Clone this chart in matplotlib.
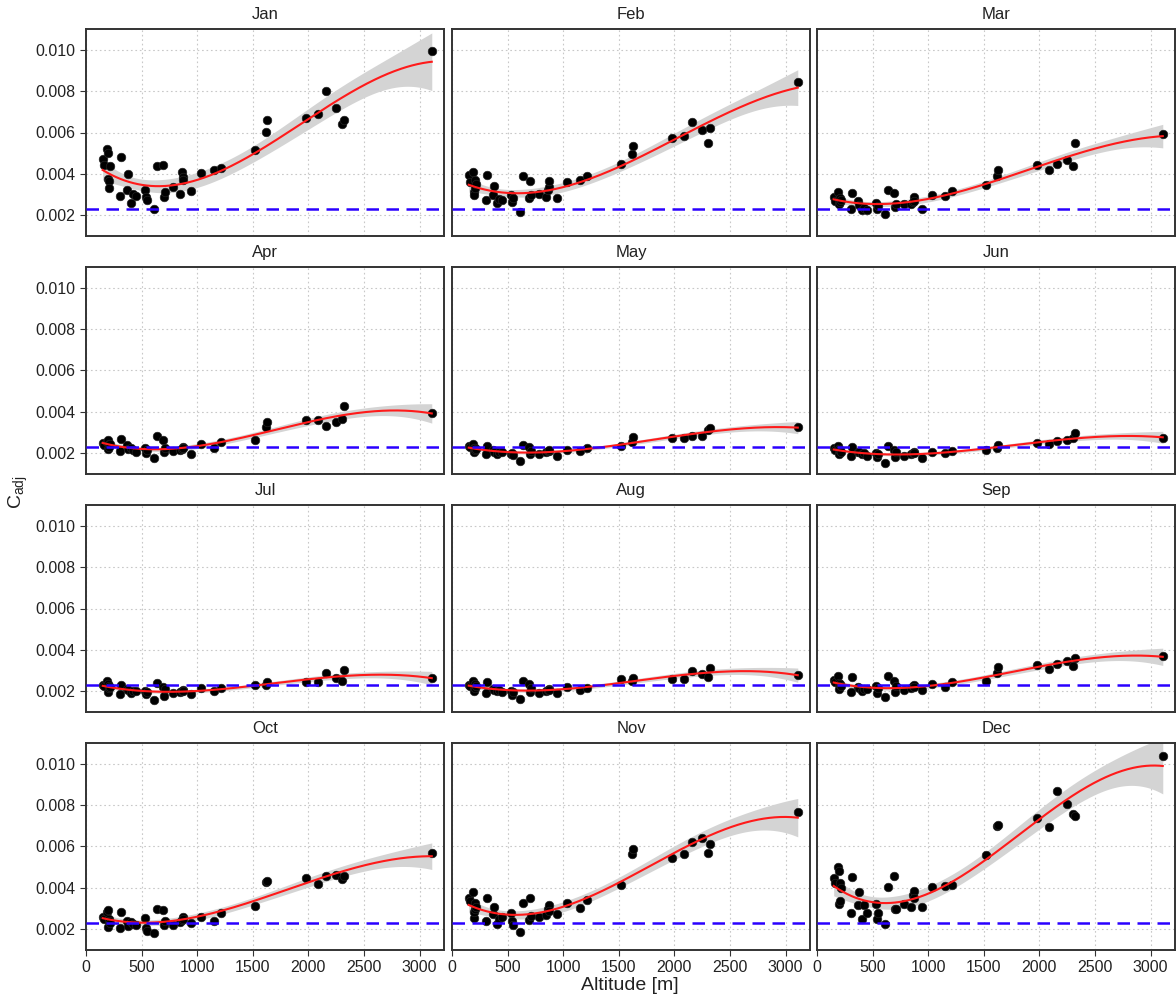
import numpy as np
import matplotlib
matplotlib.use("Agg")
import matplotlib.pyplot as plt

plt.rcParams['font.family'] = ['Liberation Sans', 'DejaVu Sans']

# Station altitudes [m], shared by every month
altitude = [150, 160, 190, 195, 200, 205, 210, 220, 305, 315, 365, 380, 405, 420, 450,
            530, 540, 550, 610, 640, 695, 705, 715, 785, 845, 865, 870, 875, 945,
            1035, 1155, 1215, 1520, 1615, 1625, 1975, 2085, 2155, 2250, 2305, 2325, 3110]

months = ["Jan", "Feb", "Mar", "Apr", "May", "Jun",
          "Jul", "Aug", "Sep", "Oct", "Nov", "Dec"]

c_jan = [0.00473, 0.00445, 0.00518, 0.00500, 0.00377, 0.00364, 0.00333, 0.00436, 0.00293, 0.00484,
         0.00324, 0.00401, 0.00261, 0.00301, 0.00293, 0.00321, 0.00288, 0.00272, 0.00232, 0.00439,
         0.00444, 0.00288, 0.00312, 0.00337, 0.00301, 0.00409, 0.00385, 0.00369, 0.00316, 0.00404,
         0.00420, 0.00428, 0.00514, 0.00601, 0.00662, 0.00671, 0.00691, 0.00801, 0.00716, 0.00639,
         0.00662, 0.00995]
c_feb = [0.00393, 0.00361, 0.00409, 0.00313, 0.00300, 0.00369, 0.00330, 0.00350, 0.00272, 0.00393,
         0.00296, 0.00340, 0.00259, 0.00280, 0.00272, 0.00296, 0.00264, 0.00285, 0.00215, 0.00389,
         0.00283, 0.00365, 0.00300, 0.00304, 0.00287, 0.00321, 0.00337, 0.00364, 0.00283, 0.00362,
         0.00370, 0.00389, 0.00447, 0.00497, 0.00535, 0.00572, 0.00582, 0.00652, 0.00614, 0.00550,
         0.00623, 0.00846]
c_mar = [0.00288, 0.00270, 0.00312, 0.00253, 0.00280, 0.00265, 0.00283, 0.00275, 0.00232, 0.00309,
         0.00267, 0.00250, 0.00227, 0.00235, 0.00224, 0.00261, 0.00229, 0.00245, 0.00204, 0.00321,
         0.00306, 0.00240, 0.00255, 0.00255, 0.00256, 0.00264, 0.00288, 0.00270, 0.00232, 0.00296,
         0.00291, 0.00319, 0.00348, 0.00389, 0.00421, 0.00444, 0.00421, 0.00447, 0.00466, 0.00439,
         0.00548, 0.00591]
c_apr = [0.00250, 0.00240, 0.00256, 0.00221, 0.00266, 0.00245, 0.00232, 0.00245, 0.00211, 0.00267,
         0.00240, 0.00221, 0.00227, 0.00215, 0.00208, 0.00227, 0.00202, 0.00215, 0.00179, 0.00282,
         0.00266, 0.00208, 0.00224, 0.00213, 0.00218, 0.00222, 0.00229, 0.00225, 0.00198, 0.00245,
         0.00227, 0.00256, 0.00264, 0.00326, 0.00352, 0.00360, 0.00363, 0.00334, 0.00349, 0.00368,
         0.00427, 0.00395]
c_may = [0.00237, 0.00230, 0.00243, 0.00205, 0.00225, 0.00215, 0.00228, 0.00220, 0.00198, 0.00237,
         0.00214, 0.00205, 0.00198, 0.00205, 0.00208, 0.00195, 0.00200, 0.00192, 0.00162, 0.00240,
         0.00230, 0.00198, 0.00210, 0.00198, 0.00205, 0.00210, 0.00213, 0.00218, 0.00189, 0.00218,
         0.00211, 0.00224, 0.00234, 0.00253, 0.00277, 0.00272, 0.00275, 0.00285, 0.00282, 0.00314,
         0.00320, 0.00325]
c_jun = [0.00224, 0.00215, 0.00234, 0.00195, 0.00220, 0.00210, 0.00215, 0.00205, 0.00189, 0.00229,
         0.00205, 0.00208, 0.00195, 0.00200, 0.00189, 0.00202, 0.00182, 0.00195, 0.00152, 0.00234,
         0.00214, 0.00182, 0.00205, 0.00186, 0.00195, 0.00202, 0.00205, 0.00200, 0.00178, 0.00208,
         0.00202, 0.00213, 0.00216, 0.00224, 0.00240, 0.00250, 0.00243, 0.00259, 0.00262, 0.00272,
         0.00298, 0.00275]
c_jul = [0.00229, 0.00225, 0.00248, 0.00197, 0.00235, 0.00215, 0.00226, 0.00220, 0.00189, 0.00232,
         0.00213, 0.00205, 0.00194, 0.00203, 0.00200, 0.00203, 0.00187, 0.00195, 0.00157, 0.00240,
         0.00222, 0.00178, 0.00210, 0.00190, 0.00197, 0.00200, 0.00206, 0.00203, 0.00187, 0.00216,
         0.00200, 0.00216, 0.00232, 0.00229, 0.00245, 0.00245, 0.00245, 0.00286, 0.00264, 0.00251,
         0.00301, 0.00264]
c_aug = [0.00230, 0.00225, 0.00251, 0.00202, 0.00220, 0.00234, 0.00215, 0.00225, 0.00194, 0.00245,
         0.00213, 0.00208, 0.00200, 0.00205, 0.00197, 0.00203, 0.00184, 0.00198, 0.00162, 0.00251,
         0.00235, 0.00197, 0.00215, 0.00194, 0.00200, 0.00205, 0.00213, 0.00208, 0.00194, 0.00219,
         0.00206, 0.00216, 0.00261, 0.00248, 0.00266, 0.00261, 0.00261, 0.00296, 0.00285, 0.00267,
         0.00312, 0.00280]
c_sep = [0.00254, 0.00245, 0.00274, 0.00213, 0.00242, 0.00230, 0.00235, 0.00225, 0.00197, 0.00269,
         0.00222, 0.00215, 0.00203, 0.00212, 0.00210, 0.00226, 0.00194, 0.00215, 0.00171, 0.00274,
         0.00251, 0.00197, 0.00225, 0.00206, 0.00215, 0.00225, 0.00229, 0.00220, 0.00206, 0.00235,
         0.00219, 0.00245, 0.00251, 0.00286, 0.00315, 0.00328, 0.00309, 0.00334, 0.00344, 0.00322,
         0.00363, 0.00370]
c_oct = [0.00261, 0.00250, 0.00284, 0.00213, 0.00293, 0.00248, 0.00240, 0.00230, 0.00207, 0.00284,
         0.00242, 0.00216, 0.00236, 0.00225, 0.00220, 0.00255, 0.00207, 0.00191, 0.00181, 0.00300,
         0.00293, 0.00223, 0.00242, 0.00220, 0.00236, 0.00245, 0.00258, 0.00250, 0.00232, 0.00261,
         0.00242, 0.00280, 0.00311, 0.00428, 0.00434, 0.00446, 0.00420, 0.00457, 0.00460, 0.00441,
         0.00457, 0.00569]
c_nov = [0.00353, 0.00337, 0.00380, 0.00255, 0.00284, 0.00326, 0.00300, 0.00310, 0.00239, 0.00351,
         0.00274, 0.00309, 0.00226, 0.00250, 0.00258, 0.00280, 0.00242, 0.00220, 0.00188, 0.00326,
         0.00245, 0.00351, 0.00265, 0.00261, 0.00268, 0.00296, 0.00316, 0.00290, 0.00272, 0.00329,
         0.00305, 0.00340, 0.00413, 0.00566, 0.00588, 0.00545, 0.00563, 0.00622, 0.00643, 0.00569,
         0.00614, 0.00769]
c_dec = [0.00449, 0.00422, 0.00502, 0.00321, 0.00481, 0.00337, 0.00422, 0.00400, 0.00280, 0.00454,
         0.00316, 0.00380, 0.00252, 0.00319, 0.00280, 0.00322, 0.00248, 0.00280, 0.00224, 0.00404,
         0.00457, 0.00296, 0.00300, 0.00322, 0.00309, 0.00367, 0.00386, 0.00350, 0.00306, 0.00404,
         0.00409, 0.00412, 0.00558, 0.00700, 0.00705, 0.00737, 0.00692, 0.00867, 0.00806, 0.00758,
         0.00745, 0.01037]

series = [c_jan, c_feb, c_mar, c_apr, c_may, c_jun,
          c_jul, c_aug, c_sep, c_oct, c_nov, c_dec]

reference_level = 0.0023
y_ticks = [0.002, 0.004, 0.006, 0.008, 0.010]
x_ticks = [0, 500, 1000, 1500, 2000, 2500, 3000]


def cubic_fit(x, y, xg, t_crit=2.024):
    """Cubic least-squares fit with a 95% confidence band for the mean."""
    x = np.asarray(x, float)
    y = np.asarray(y, float)
    mu, sd = x.mean(), x.std()
    X = np.vander((x - mu) / sd, 4)
    Xg = np.vander((xg - mu) / sd, 4)
    beta, *_ = np.linalg.lstsq(X, y, rcond=None)
    resid = y - X @ beta
    dof = len(y) - 4
    s2 = resid @ resid / dof
    cov = s2 * np.linalg.inv(X.T @ X)
    fit = Xg @ beta
    se = np.sqrt(np.einsum('ij,jk,ik->i', Xg, cov, Xg))
    return fit, fit - t_crit * se, fit + t_crit * se


W, H = 1176, 1001
fig = plt.figure(figsize=(W / 100, H / 100), dpi=100)

col_left = [86, 452, 817]
col_width = 358
row_top = [29, 267, 505, 743]
row_height = 207

xg = np.linspace(min(altitude), max(altitude), 300)

for i, (name, vals) in enumerate(zip(months, series)):
    r, c = divmod(i, 3)
    ax = fig.add_axes([col_left[c] / W, 1 - (row_top[r] + row_height) / H,
                       col_width / W, row_height / H])
    ax.set_xlim(0, 3220)
    ax.set_ylim(0.001, 0.011)
    ax.set_xticks(x_ticks)
    ax.set_yticks(y_ticks)
    ax.grid(True, color='#c8c8c8', linestyle=(0, (1.5, 2.5)), linewidth=0.8)
    ax.set_axisbelow(True)

    fit, lo, hi = cubic_fit(altitude, vals, xg)
    ax.fill_between(xg, lo, hi, color='#d4d4d4', linewidth=0, zorder=2)
    ax.scatter(altitude, vals, s=38, color='black', edgecolors='#222222',
               linewidths=0.5, zorder=3)
    ax.plot(xg, fit, color='#ff1a1a', linewidth=1.5, zorder=4)
    ax.axhline(reference_level, color='#2a00ff', linestyle=(0, (5, 3)),
               linewidth=1.8, zorder=5)

    ax.set_title(name, fontsize=12, pad=7, color='#222222')
    for sp in ax.spines.values():
        sp.set_color('#333333')
        sp.set_linewidth(1.4)
    ax.tick_params(axis='both', labelsize=11.5, length=4, width=0.8,
                   color='#333333', labelcolor='#222222')
    if c == 0:
        ax.set_yticklabels([f"{v:.3f}" for v in y_ticks])
    else:
        ax.tick_params(axis='y', labelleft=False, length=0)
    if r == 3:
        ax.set_xticklabels([str(v) for v in x_ticks])
    else:
        ax.tick_params(axis='x', labelbottom=False, length=0)

fig.text(630 / W, 1 - 985 / H, "Altitude [m]", fontsize=14, ha='center', va='center',
         color='#222222')
fig.text(18 / W, 1 - 492 / H, r"C$_{\mathregular{adj}}$", fontsize=14, ha='center',
         va='center', rotation=90, color='#222222')

fig.savefig("out.png", dpi=100)
